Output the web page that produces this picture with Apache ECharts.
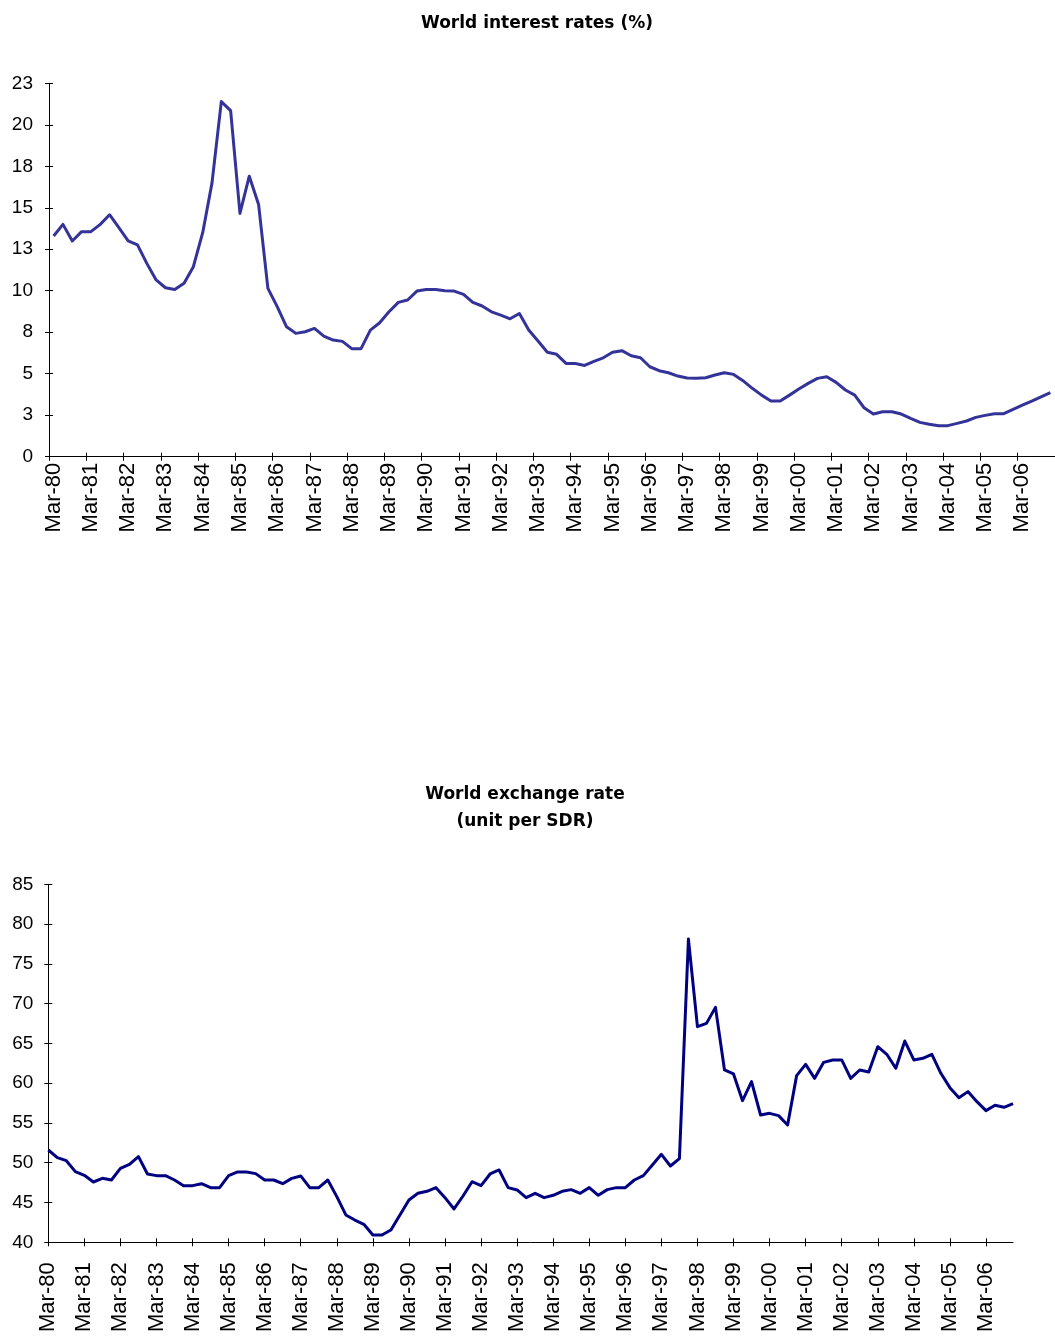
<!DOCTYPE html>
<html>
<head>
<meta charset="utf-8">
<script src="https://cdn.jsdelivr.net/npm/echarts@6/dist/echarts.min.js"></script>
<style>
  html, body { margin: 0; padding: 0; background: #ffffff; }
  #chart { width: 1055px; height: 1339px; }
</style>
</head>
<body>
<div id="chart"></div>
<script>
// ---- data ----
const quarterMonths = ['Mar', 'Jun', 'Sep', 'Dec'];
const yearLabels = ['80','81','82','83','84','85','86','87','88','89','90','91','92','93',
                    '94','95','96','97','98','99','00','01','02','03','04','05','06'];
const categories = [];
yearLabels.forEach(function (y) { quarterMonths.forEach(function (m) { categories.push(m + '-' + y); }); });

// World interest rates (%), quarterly Mar-80 .. Dec-06
const interestRates = [
  13.3, 14.0, 13.0, 13.56, 13.56, 14.0, 14.58, 13.8,
  13.0, 12.76, 11.65, 10.65, 10.18, 10.08, 10.45, 11.45,
  13.5, 16.5, 21.4, 20.85, 14.66, 16.9, 15.2, 10.14,
  9.04, 7.83, 7.43, 7.53, 7.73, 7.27, 7.03, 6.95,
  6.51, 6.51, 7.63, 8.07, 8.73, 9.3, 9.44, 9.98,
  10.08, 10.08, 10.0, 9.98, 9.78, 9.3, 9.08, 8.73,
  8.53, 8.31, 8.63, 7.63, 6.97, 6.29, 6.17, 5.62,
  5.62, 5.5, 5.74, 5.96, 6.29, 6.39, 6.08, 5.96,
  5.42, 5.18, 5.06, 4.86, 4.74, 4.72, 4.76, 4.92,
  5.06, 4.96, 4.58, 4.12, 3.71, 3.35, 3.35, 3.71,
  4.08, 4.42, 4.72, 4.82, 4.48, 4.02, 3.71, 2.95,
  2.57, 2.71, 2.71, 2.57, 2.31, 2.07, 1.95, 1.87,
  1.87, 2.01, 2.15, 2.37, 2.49, 2.59, 2.59, 2.85,
  3.11, 3.35, 3.61, 3.86
];

// World exchange rate (unit per SDR), quarterly Mar-80 .. Dec-06
const exchangeRates = [
  51.6, 50.64, 50.26, 48.88, 48.42, 47.58, 48.04, 47.83,
  49.3, 49.8, 50.77, 48.59, 48.38, 48.38, 47.83, 47.12,
  47.12, 47.37, 46.87, 46.87, 48.38, 48.84, 48.84, 48.63,
  47.83, 47.83, 47.37, 48.04, 48.34, 46.87, 46.87, 47.83,
  45.74, 43.44, 42.8, 42.26, 40.92, 40.92, 41.55, 43.44,
  45.32, 46.16, 46.41, 46.87, 45.61, 44.19, 45.82, 47.62,
  47.12, 48.59, 49.09, 46.87, 46.58, 45.61, 46.16, 45.61,
  45.91, 46.41, 46.62, 46.16, 46.87, 45.91, 46.62, 46.87,
  46.87, 47.83, 48.38, 49.72, 51.06, 49.59, 50.52, 78.12,
  67.1, 67.52, 69.53, 61.66, 61.16, 57.8, 60.19, 56.0,
  56.21, 55.92, 54.75, 60.95, 62.37, 60.61, 62.62, 62.92,
  62.92, 60.61, 61.66, 61.41, 64.59, 63.63, 61.87, 65.3,
  62.92, 63.13, 63.63, 61.24, 59.44, 58.18, 58.94, 57.68,
  56.55, 57.22, 56.97, 57.43
];

// axis tick labels
const interestTickLabels = ['0', '3', '5', '8', '10', '13', '15', '18', '20', '23'];
const exchangeTickLabels = ['40', '45', '50', '55', '60', '65', '70', '75', '80', '85'];

// ---- chart ----
const FONT = 'Liberation Sans, Arial, sans-serif';
const TITLE_FONT = 'DejaVu Sans, sans-serif';
const axisColor = '#000000';

function xMain(grid, boundaryGap, margin) {
  return {
    gridIndex: grid, type: 'category', data: categories, boundaryGap: boundaryGap, position: 'bottom',
    axisLine: { show: true, lineStyle: { color: axisColor, width: 1 } },
    axisTick: { show: true, interval: 3, length: 4, lineStyle: { color: axisColor, width: 1 } },
    axisLabel: { interval: 3, rotate: 90, margin: margin, fontSize: 22, color: '#000', fontFamily: FONT },
    splitLine: { show: false }
  };
}
function xInner(grid, boundaryGap) {
  return {
    gridIndex: grid, type: 'category', data: categories, boundaryGap: boundaryGap, position: 'bottom', offset: 0,
    axisLine: { show: false },
    axisTick: { show: true, inside: true, interval: 3, length: 4, lineStyle: { color: axisColor, width: 1 } },
    axisLabel: { show: false },
    splitLine: { show: false }
  };
}
function yMain(grid, min, max, interval, labels, margin) {
  return {
    gridIndex: grid, type: 'value', min: min, max: max, interval: interval, position: 'left',
    axisLine: { show: true, lineStyle: { color: axisColor, width: 1 } },
    axisTick: { show: true, length: 4, lineStyle: { color: axisColor, width: 1 } },
    axisLabel: {
      margin: margin, fontSize: 19, color: '#000', fontFamily: FONT,
      formatter: function (v, i) { return labels[Math.round((v - min) / interval)]; }
    },
    splitLine: { show: false }
  };
}
function yInner(grid, min, max, interval) {
  return {
    gridIndex: grid, type: 'value', min: min, max: max, interval: interval, position: 'left', offset: 0,
    axisLine: { show: false },
    axisTick: { show: true, inside: true, length: 4, lineStyle: { color: axisColor, width: 1 } },
    axisLabel: { show: false },
    splitLine: { show: false }
  };
}

const chart = echarts.init(document.getElementById('chart'), null, { renderer: 'canvas' });
chart.setOption({
  animation: false,
  backgroundColor: '#ffffff',
  title: [
    {
      text: 'World interest rates (%)', left: 537, top: 15, textAlign: 'center', padding: 0,
      textStyle: { fontFamily: TITLE_FONT, fontWeight: 'bold', fontSize: 17, lineHeight: 17, color: '#000' }
    },
    {
      text: 'World exchange rate\n(unit per SDR)', left: 525, top: 781, textAlign: 'center', padding: 0,
      textStyle: { fontFamily: TITLE_FONT, fontWeight: 'bold', fontSize: 17, lineHeight: 27, color: '#000' }
    }
  ],
  grid: [
    { left: 49, top: 83.3, width: 1010, height: 373.4, containLabel: false },
    { left: 48.3, top: 884.3, width: 964.7, height: 358, containLabel: false }
  ],
  xAxis: [xMain(0, true, 6), xInner(0, true), xMain(1, false, 20), xInner(1, false)],
  yAxis: [
    yMain(0, 0, 22.5, 2.5, interestTickLabels, 16), yInner(0, 0, 22.5, 2.5),
    yMain(1, 40, 85, 5, exchangeTickLabels, 15), yInner(1, 40, 85, 5)
  ],
  series: [
    {
      name: 'World interest rates', type: 'line', xAxisIndex: 0, yAxisIndex: 0,
      data: interestRates, showSymbol: false, symbol: 'none',
      lineStyle: { color: '#333399', width: 3, join: 'round' }, itemStyle: { color: '#333399' }
    },
    {
      name: 'World exchange rate', type: 'line', xAxisIndex: 2, yAxisIndex: 2,
      data: exchangeRates, showSymbol: false, symbol: 'none',
      lineStyle: { color: '#000080', width: 3, join: 'round' }, itemStyle: { color: '#000080' }
    }
  ]
});
</script>
</body>
</html>
